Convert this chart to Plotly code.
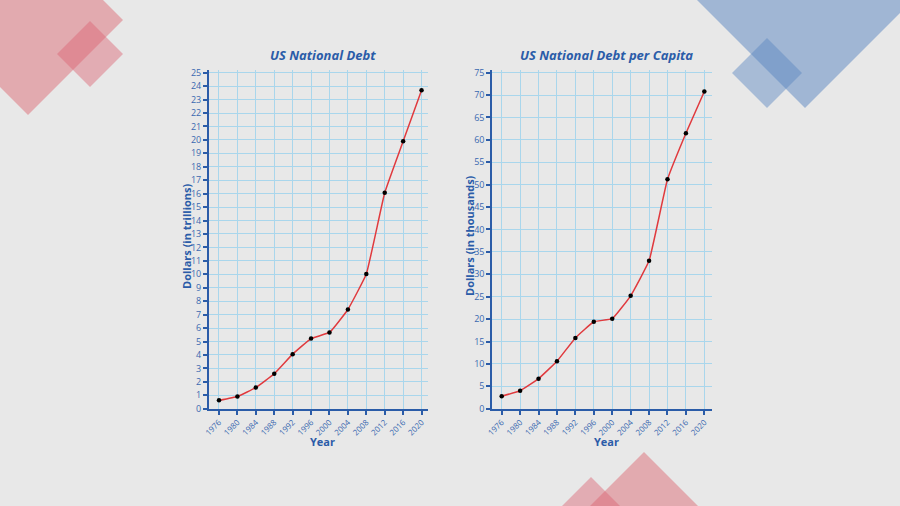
import plotly.graph_objects as go

years = [1976, 1980, 1984, 1988, 1992, 1996, 2000, 2004, 2008, 2012, 2016, 2020]
debt_trillions = [0.62, 0.91, 1.57, 2.60, 4.06, 5.22, 5.67, 7.38, 10.02, 16.07, 19.90, 23.70]
debt_per_capita_thousands = [2.8, 4.0, 6.7, 10.6, 15.8, 19.4, 20.1, 25.2, 33.0, 51.2, 61.5, 70.8]

left_title = "US National Debt"
right_title = "US National Debt per Capita"
left_ylabel = "Dollars (in trillions)"
right_ylabel = "Dollars (in thousands)"
xlabel = "Year"

BLUE = "#2b5ca8"
TICKBLUE = "#3a68b0"
GRID = "#a9d6ec"
BG = "#e8e8e8"
FONT = "Open Sans"

fig = go.Figure()
for xa, ya, vals in (("x", "y", debt_trillions), ("x2", "y2", debt_per_capita_thousands)):
    fig.add_trace(go.Scatter(x=years, y=vals, mode="lines+markers",
                             line=dict(color="#e03a3e", width=1.5, shape="spline", smoothing=0.3),
                             marker=dict(color="black", size=4.5), xaxis=xa, yaxis=ya, showlegend=False))

W, H = 900, 506
def px(x):
    return x / W
def py(y):
    return 1 - y / H

xcommon = dict(tickmode="array", tickvals=years, ticktext=[str(y) for y in years],
               tickangle=-45, tickfont=dict(family=FONT, size=8, color=TICKBLUE),
               showline=True, linecolor=BLUE, linewidth=2, ticks="outside", ticklen=4,
               tickcolor=BLUE, tickwidth=1.5, showgrid=True, gridcolor=GRID, gridwidth=1,
               zeroline=False, automargin=False, fixedrange=True)
ycommon = dict(tickfont=dict(family=FONT, size=9, color=TICKBLUE),
               showline=True, linecolor=BLUE, linewidth=2, ticks="outside", ticklen=4,
               tickcolor=BLUE, tickwidth=1.5, showgrid=True, gridcolor=GRID, gridwidth=1,
               zeroline=False, automargin=False, fixedrange=True)

fig.update_layout(
    width=W, height=H,
    margin=dict(l=0, r=0, t=0, b=0),
    paper_bgcolor=BG, plot_bgcolor=BG,
    template="none",
    xaxis=dict(domain=[px(209), px(428)], range=[1973.83, 2021.4], anchor="y", **xcommon),
    yaxis=dict(domain=[py(408.7), py(70)], range=[0, 25.2], dtick=1, tick0=0, anchor="x", **ycommon),
    xaxis2=dict(domain=[px(492.3), px(711.7)], range=[1973.96, 2021.6], anchor="y2", **xcommon),
    yaxis2=dict(domain=[py(408.7), py(70)], range=[0, 75.6], dtick=5, tick0=0, anchor="x2", **ycommon),
)

ann = []
title_font = dict(family=FONT, size=13, color=BLUE)
ann.append(dict(text=f"<b><i>{left_title}</i></b>", x=px(323), y=py(55), xref="paper", yref="paper",
                showarrow=False, font=title_font, xanchor="center", yanchor="middle"))
ann.append(dict(text=f"<b><i>{right_title}</i></b>", x=px(606), y=py(55), xref="paper", yref="paper",
                showarrow=False, font=title_font, xanchor="center", yanchor="middle"))
lab_font = dict(family=FONT, size=11, color=BLUE)
ann.append(dict(text=f"<b>{left_ylabel}</b>", x=px(186), y=py(236), xref="paper", yref="paper",
                showarrow=False, font=lab_font, textangle=-90, xanchor="center", yanchor="middle"))
ann.append(dict(text=f"<b>{right_ylabel}</b>", x=px(469), y=py(236), xref="paper", yref="paper",
                showarrow=False, font=lab_font, textangle=-90, xanchor="center", yanchor="middle"))
ann.append(dict(text=f"<b>{xlabel}</b>", x=px(322), y=py(441), xref="paper", yref="paper",
                showarrow=False, font=lab_font, xanchor="center", yanchor="middle"))
ann.append(dict(text=f"<b>{xlabel}</b>", x=px(606), y=py(441), xref="paper", yref="paper",
                showarrow=False, font=lab_font, xanchor="center", yanchor="middle"))
fig.update_layout(annotations=ann)

def diamond(cx, cy, r, color):
    pts = [(cx, cy - r), (cx + r, cy), (cx, cy + r), (cx - r, cy)]
    path = "M " + " L ".join(f"{px(x):.5f},{py(y):.5f}" for x, y in pts) + " Z"
    return dict(type="path", path=path, xref="paper", yref="paper",
                fillcolor=color, line=dict(width=0), layer="below")

PINK = "rgba(220,108,118,0.5)"
PINK2 = "rgba(220,100,115,0.45)"
BLUEDEC = "rgba(88,132,192,0.5)"
BLUEDEC2 = "rgba(88,132,192,0.45)"
shapes = [
    diamond(28, 20, 95, PINK),
    diamond(90, 54, 33, PINK2),
    diamond(805, -7, 115, BLUEDEC),
    diamond(767, 73, 35, BLUEDEC2),
    diamond(644, 560, 108, PINK),
    diamond(591, 560, 83, PINK2),
]
fig.update_layout(shapes=shapes)

fig.write_html("out.html")
